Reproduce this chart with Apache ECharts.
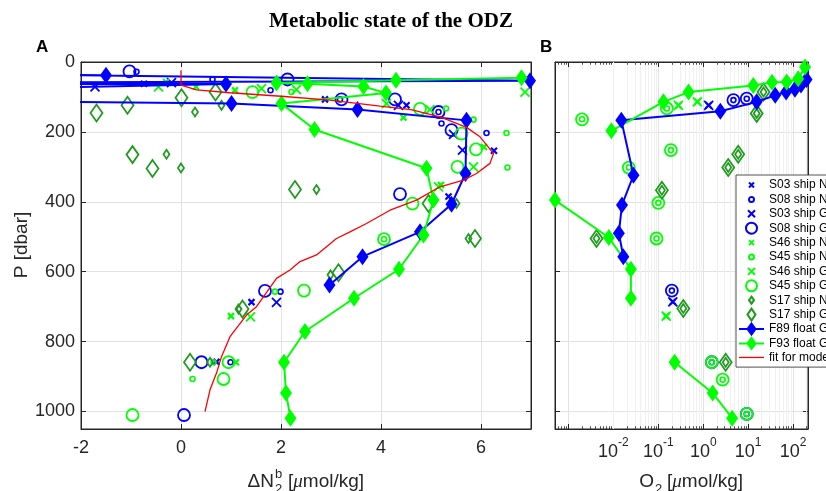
<!DOCTYPE html>
<html><head><meta charset="utf-8">
<script src="https://cdn.jsdelivr.net/npm/echarts@6/dist/echarts.min.js"></script>
<style>html,body{margin:0;padding:0;background:#fff}#c{width:826px;height:491px}</style>
</head><body><div id="c"></div>
<script>
// ---------- Panel A: [ΔN2b (µmol/kg), P (dbar)] ----------
var s03NU_A = [[-0.74,62],[2.88,107],[4.51,124],[6.26,254],[5.35,385],[1.41,687],[0.71,858]];
var s08NU_A = [[-0.89,28],[0.63,50],[1.79,81],[3.18,107],[5.15,143],[5.21,176],[6.11,203],[1.99,657],[0.99,859]];
var s03GT_A = [[-1.72,71],[-0.19,59],[4.35,124],[5.45,207],[5.63,252],[1.91,688]];
var s08GT_A = [[-1.03,27],[2.13,50],[3.21,107],[4.28,107],[5.15,143],[5.41,195],[4.38,378],[1.68,655],[0.41,859],[0.06,1010]];
var s46NU_A = [[-0.3,57],[0.3,71],[1.08,81],[4.45,159],[6.06,243],[5.2,352],[1.0,727],[1.1,859]];
var s45NU_A = [[2.21,86],[5.3,133],[5.85,165],[6.51,203],[6.53,302],[4.06,507],[1.88,657],[0.65,859],[0.23,907]];
var s46GT_A = [[-0.45,71],[1.61,76],[2.31,79],[4.11,119],[4.98,136],[6.88,86],[5.85,300],[5.15,357],[1.39,729]];
var s45GT_A = [[1.43,86],[4.78,134],[5.61,205],[5.9,250],[5.53,300],[4.63,405],[4.06,507],[2.46,654],[0.95,859],[0.85,907],[-0.97,1010]];
var s17NU_A = [[0.81,124],[0.28,143],[-0.29,264],[0.0,303],[2.71,365],[5.51,405],[5.75,505],[2.99,609],[1.15,707],[0.58,859]];
var s17GT_A = [[0.69,86],[0.01,102],[-1.07,124],[-1.69,146],[-0.97,265],[-0.57,305],[2.28,365],[4.95,405],[5.88,505],[3.15,603],[1.23,707],[0.18,859]];
var f89_A = [[-1.5,38],[-12,20],[6.98,54],[-12,62],[0.9,63],[-12,100],[1.01,119],[3.53,136],[5.71,167],[5.69,319],[5.41,407],[4.78,486],[3.63,557],[2.97,638]];
var f93_A = [[8.5,12],[6.81,45],[4.3,52],[1.91,60],[2.53,62],[3.65,70],[4.1,89],[2.01,119],[2.67,193],[4.91,304],[5.05,395],[4.85,495],[4.36,593],[3.46,676],[2.48,771],[2.06,859],[2.1,947],[2.19,1019]];
var fit_A = [[0.0,24],[0.0,66],[0.31,80],[0.98,88],[2.0,98],[2.98,109],[3.98,126],[4.6,136],[5.2,158],[5.71,187],[5.98,214],[6.25,262],[6.18,290],[5.91,319],[5.65,338],[5.18,357],[4.71,395],[4.18,424],[3.71,462],[3.38,486],[3.11,505],[2.71,552],[2.38,571],[2.18,595],[1.91,619],[1.51,700],[1.31,724],[0.98,786],[0.81,843],[0.71,890],[0.58,938],[0.48,1000]];

// ---------- Panel B: [O2 (µmol/kg), P (dbar)] ----------
var s03_B = [[1.32,124],[0.21,686]];
var s08_B = [[4.7,109],[9.3,105],[0.2,654],[1.55,859],[9.3,1007]];
var s46_B = [[0.28,124],[0.74,114],[0.15,727]];
var s45_B = [[0.002,164],[0.155,133],[0.19,252],[0.022,302],[0.10,403],[0.091,505],[1.55,859],[2.7,909],[9.3,1007]];
var s17_B = [[22,86],[15.5,147],[6.0,264],[3.6,302],[0.12,367],[0.0042,505],[0.36,705],[3.16,859]];
var f89_B = [[240,5],[200,50],[150,66],[110,78],[70,86],[40,95],[15.5,114],[2.4,141],[0.015,167],[0.028,324],[0.0155,409],[0.0132,490],[0.0166,557]];
var f93_B = [[185,14],[130,48],[72,57],[34,58],[13,67],[0.47,86],[0.13,114],[0.009,197],[null,304],[0.0005,395],[0.0079,502],[0.0245,593],[0.0245,676],[null,771],[0.23,859],[1.62,947],[4.4,1019]];

// ---------- axes ticks ----------
var xTicksA = [-2, 0, 2, 4, 6];
var yTicks = [0, 200, 400, 600, 800, 1000];
var xDecadesB = [-2, -1, 0, 1, 2];

var BLUE = '#0000ff', GREEN = '#00ff00', DKG = '#1f9a1f', RED = '#ff0000', AX = '#262626', GRID = '#e2e2e2';
var XPATH = 'path://M0,0L10,10M10,0L0,10';
var P_MIN = 0, P_MAX = 1050, O2_MIN = 5e-4, O2_MAX = 215;

function sc(name, data, symbol, size, color, bw, xi, yi, z) {
  return {type: 'scatter', name: name, data: data, symbol: symbol, symbolSize: size,
    xAxisIndex: xi, yAxisIndex: yi, z: z || 3, animation: false,
    itemStyle: {color: 'rgba(0,0,0,0)', borderColor: color, borderWidth: bw, opacity: 1},
    emphasis: {disabled: true}};
}
function ln(name, data, color, xi, yi) {
  return {type: 'line', name: name, data: data, xAxisIndex: xi, yAxisIndex: yi, z: 4, animation: false,
    symbol: 'diamond', symbolSize: [12, 17], showAllSymbol: true, connectNulls: false,
    lineStyle: {color: color, width: 2, type: 'solid'}, itemStyle: {color: color}, emphasis: {disabled: true}};
}

var series = [
  sc('S03 ship NU', s03NU_A, XPATH, 6, BLUE, 2.2, 0, 0),
  sc('S08 ship NU', s08NU_A, 'circle', 5, BLUE, 1.6, 0, 0),
  sc('S03 ship GT', s03GT_A, XPATH, 9, BLUE, 1.8, 0, 0),
  sc('S08 ship GT', s08GT_A, 'circle', 12, BLUE, 1.8, 0, 0),
  sc('S46 ship NU', s46NU_A, XPATH, 6, GREEN, 2.2, 0, 0),
  sc('S45 ship NU', s45NU_A, 'circle', 5, GREEN, 1.6, 0, 0),
  sc('S46 ship GT', s46GT_A, XPATH, 9, GREEN, 1.8, 0, 0),
  sc('S45 ship GT', s45GT_A, 'circle', 12, GREEN, 1.8, 0, 0),
  sc('S17 ship NU', s17NU_A, 'diamond', [6, 9], DKG, 1.8, 0, 0),
  sc('S17 ship GT', s17GT_A, 'diamond', [12, 17], DKG, 1.8, 0, 0),
  ln('F89 float GT', f89_A, BLUE, 0, 0),
  ln('F93 float GT', f93_A, GREEN, 0, 0),
  {type: 'line', name: 'fit for model', data: fit_A, xAxisIndex: 0, yAxisIndex: 0, z: 5, symbol: 'none',
    animation: false, lineStyle: {color: RED, width: 1.3}, itemStyle: {color: RED}, emphasis: {disabled: true}},
  // panel B
  sc('S03 ship NU', s03_B, XPATH, 6, BLUE, 2.2, 2, 2),
  sc('S08 ship NU', s08_B, 'circle', 5, BLUE, 1.6, 2, 2),
  sc('S03 ship GT', s03_B, XPATH, 9, BLUE, 1.8, 2, 2),
  sc('S08 ship GT', s08_B, 'circle', 12, BLUE, 1.8, 2, 2),
  sc('S46 ship NU', s46_B, XPATH, 6, GREEN, 2.2, 2, 2),
  sc('S45 ship NU', s45_B, 'circle', 5, GREEN, 1.6, 2, 2),
  sc('S46 ship GT', s46_B, XPATH, 9, GREEN, 1.8, 2, 2),
  sc('S45 ship GT', s45_B, 'circle', 12, GREEN, 1.8, 2, 2),
  sc('S17 ship NU', s17_B, 'diamond', [6, 9], DKG, 1.8, 2, 2),
  sc('S17 ship GT', s17_B, 'diamond', [12, 17], DKG, 1.8, 2, 2),
  ln('F89 float GT', f89_B, BLUE, 2, 2),
  ln('F93 float GT', f93_B, GREEN, 2, 2)
];

// minor log grid lines and minor ticks for panel B
var minorLines = [], minorTicks = [];
for (var n = -4; n <= 2; n++) {
  for (var k = 2; k <= 9; k++) {
    var v = k * Math.pow(10, n);
    if (v > O2_MIN && v < O2_MAX) {
      minorLines.push({xAxis: v});
      minorTicks.push([{coord: [v, P_MAX]}, {coord: [v, P_MAX - 8]}]);
      minorTicks.push([{coord: [v, P_MIN]}, {coord: [v, P_MIN + 8]}]);
    }
  }
}
series.push({type: 'line', name: '_minor', data: [[1, -500]], xAxisIndex: 2, yAxisIndex: 2, z: 1, symbol: 'none',
  silent: true, animation: false, lineStyle: {width: 0},
  markLine: {silent: true, z: 1, symbol: 'none', animation: false, label: {show: false},
    lineStyle: {color: '#f0f0f0', width: 1, type: 'solid'}, emphasis: {disabled: true}, data: minorLines}});
series.push({type: 'line', name: '_minorTicks', data: [[1, -500]], xAxisIndex: 2, yAxisIndex: 2, z: 6, symbol: 'none',
  silent: true, animation: false, lineStyle: {width: 0},
  markLine: {silent: true, z: 6, symbol: 'none', animation: false, label: {show: false},
    lineStyle: {color: AX, width: 0.8, type: 'solid'}, emphasis: {disabled: true}, data: minorTicks}});

function logFmt(v) {
  var l = Math.log10(v), r = Math.round(l);
  if (Math.abs(l - r) < 1e-6 && xDecadesB.indexOf(r) >= 0) return '{b|10}{s|' + r + '}';
  return '';
}

var tickCommon = {inside: true, length: 5, lineStyle: {color: AX}};
var lineCommon = {show: true, onZero: false, lineStyle: {color: AX, width: 1}};

var option = {
  backgroundColor: '#fff',
  animation: false,
  grid: [
    {left: 81, top: 62, width: 450, height: 367, show: true, borderColor: AX, borderWidth: 1, backgroundColor: 'rgba(0,0,0,0)'},
    {left: 555, top: 62, width: 253, height: 367, show: true, borderColor: AX, borderWidth: 1, backgroundColor: 'rgba(0,0,0,0)'}
  ],
  xAxis: [
    {type: 'value', gridIndex: 0, position: 'bottom', min: xTicksA[0], max: 7, interval: 2,
      axisLine: lineCommon, axisTick: tickCommon,
      axisLabel: {fontSize: 18, color: AX, margin: 10, fontFamily: 'Liberation Sans', showMaxLabel: false},
      splitLine: {show: true, lineStyle: {color: GRID}}},
    {type: 'value', gridIndex: 0, position: 'top', min: xTicksA[0], max: 7, interval: 2,
      axisLine: lineCommon, axisTick: tickCommon, axisLabel: {show: false}, splitLine: {show: false}},
    {type: 'log', logBase: 10, gridIndex: 1, position: 'bottom', min: O2_MIN, max: O2_MAX,
      axisLine: lineCommon, axisTick: tickCommon,
      axisLabel: {formatter: logFmt, margin: 8, color: AX, fontFamily: 'Liberation Sans',
        rich: {b: {fontSize: 18, color: AX, fontFamily: 'Liberation Sans', lineHeight: 24, verticalAlign: 'bottom'},
               s: {fontSize: 12, color: AX, fontFamily: 'Liberation Sans', lineHeight: 24, verticalAlign: 'top'}}},
      splitLine: {show: true, lineStyle: {color: GRID}}},
    {type: 'log', logBase: 10, gridIndex: 1, position: 'top', min: O2_MIN, max: O2_MAX,
      axisLine: lineCommon, axisTick: tickCommon, axisLabel: {show: false}, splitLine: {show: false}}
  ],
  yAxis: [
    {type: 'value', gridIndex: 0, position: 'left', inverse: true, min: P_MIN, max: P_MAX, interval: 200,
      axisLine: lineCommon, axisTick: tickCommon,
      axisLabel: {fontSize: 18, color: AX, margin: 6, fontFamily: 'Liberation Sans', showMaxLabel: false,
        formatter: function (v) { return String(v); }},
      splitLine: {show: true, lineStyle: {color: GRID}}},
    {type: 'value', gridIndex: 0, position: 'right', inverse: true, min: P_MIN, max: P_MAX, interval: 200,
      axisLine: lineCommon, axisTick: tickCommon, axisLabel: {show: false}, splitLine: {show: false}},
    {type: 'value', gridIndex: 1, position: 'left', inverse: true, min: P_MIN, max: P_MAX, interval: 200,
      axisLine: lineCommon, axisTick: tickCommon, axisLabel: {show: false},
      splitLine: {show: true, lineStyle: {color: GRID}}},
    {type: 'value', gridIndex: 1, position: 'right', inverse: true, min: P_MIN, max: P_MAX, interval: 200,
      axisLine: lineCommon, axisTick: tickCommon, axisLabel: {show: false}, splitLine: {show: false}}
  ],
  legend: {
    orient: 'vertical', left: 736, top: 175, padding: [3, 4, 3, 2], z: 20,
    backgroundColor: '#fff', borderColor: AX, borderWidth: 0.8, borderRadius: 0,
    itemWidth: 25, itemHeight: 12, itemGap: 0.4, selectedMode: false,
    textStyle: {fontSize: 12, color: '#000', fontFamily: 'Liberation Sans', lineHeight: 12},
    data: [
      {name: 'S03 ship NU', icon: 'path://M0,0M12,12M3.5,3.5L8.5,8.5M8.5,3.5L3.5,8.5'},
      {name: 'S08 ship NU', icon: 'path://M0,0M12,12M8.5,6A2.5,2.5,0,1,1,8.5,5.99Z'},
      {name: 'S03 ship GT', icon: 'path://M0,0M12,12M2.5,2.5L9.5,9.5M9.5,2.5L2.5,9.5'},
      {name: 'S08 ship GT', icon: 'path://M0,0M12,12M11.5,6A5.5,5.5,0,1,1,11.5,5.99Z'},
      {name: 'S46 ship NU', icon: 'path://M0,0M12,12M3.5,3.5L8.5,8.5M8.5,3.5L3.5,8.5'},
      {name: 'S45 ship NU', icon: 'path://M0,0M12,12M8.5,6A2.5,2.5,0,1,1,8.5,5.99Z'},
      {name: 'S46 ship GT', icon: 'path://M0,0M12,12M2.5,2.5L9.5,9.5M9.5,2.5L2.5,9.5'},
      {name: 'S45 ship GT', icon: 'path://M0,0M12,12M11.5,6A5.5,5.5,0,1,1,11.5,5.99Z'},
      {name: 'S17 ship NU', icon: 'path://M0,0M12,12M6,2.5L8.5,6L6,9.5L3.5,6Z'},
      {name: 'S17 ship GT', icon: 'path://M0,0M12,12M6,0L10,6L6,12L2,6Z'},
      {name: 'F89 float GT', icon: 'path://M0,0M25,12M0,6L25,6M12.5,0.5L16.5,6L12.5,11.5L8.5,6Z',
        itemStyle: {color: BLUE, borderColor: BLUE, borderWidth: 2}},
      {name: 'F93 float GT', icon: 'path://M0,0M25,12M0,6L25,6M12.5,0.5L16.5,6L12.5,11.5L8.5,6Z',
        itemStyle: {color: GREEN, borderColor: GREEN, borderWidth: 2}},
      {name: 'fit for model', icon: 'path://M0,0M25,12M0,6L25,6',
        itemStyle: {color: 'rgba(0,0,0,0)', borderColor: RED, borderWidth: 1.3}}
    ]
  },
  graphic: [
    {type: 'text', x: 391, y: 22, style: {text: 'Metabolic state of the ODZ', font: 'bold 21px "Liberation Serif"', fill: '#000', align: 'center', verticalAlign: 'middle'}},
    {type: 'text', x: 36, y: 47, style: {text: 'A', font: 'bold 17px "Liberation Sans"', fill: '#000', align: 'left', verticalAlign: 'middle'}},
    {type: 'text', x: 540, y: 47, style: {text: 'B', font: 'bold 17px "Liberation Sans"', fill: '#000', align: 'left', verticalAlign: 'middle'}},
    {type: 'text', x: 22, y: 245, rotation: Math.PI / 2, style: {text: 'P [dbar]', font: '19px "Liberation Sans"', fill: AX, align: 'center', verticalAlign: 'middle'}},
    {type: 'text', x: 274, y: 482, style: {text: '\u0394N', font: '19px "Liberation Sans"', fill: AX, align: 'right', verticalAlign: 'middle'}},
    {type: 'text', x: 275, y: 474, style: {text: 'b', font: '13px "Liberation Sans"', fill: AX, align: 'left', verticalAlign: 'middle'}},
    {type: 'text', x: 275, y: 489, style: {text: '2', font: '13px "Liberation Sans"', fill: AX, align: 'left', verticalAlign: 'middle'}},
    {type: 'text', x: 288, y: 482, style: {text: '[{i|\u03bc}mol/kg]', font: '19px "Liberation Sans"', fill: AX, align: 'left', verticalAlign: 'middle',
      rich: {i: {fontStyle: 'italic', fontSize: 19, fontFamily: 'Liberation Serif', fill: AX}}}},
    {type: 'text', x: 654, y: 482, style: {text: 'O', font: '19px "Liberation Sans"', fill: AX, align: 'right', verticalAlign: 'middle'}},
    {type: 'text', x: 655, y: 489, style: {text: '2', font: '13px "Liberation Sans"', fill: AX, align: 'left', verticalAlign: 'middle'}},
    {type: 'text', x: 667, y: 482, style: {text: '[{i|\u03bc}mol/kg]', font: '19px "Liberation Sans"', fill: AX, align: 'left', verticalAlign: 'middle',
      rich: {i: {fontStyle: 'italic', fontSize: 19, fontFamily: 'Liberation Serif', fill: AX}}}}
  ],
  series: series
};

var chart = echarts.init(document.getElementById('c'), null, {renderer: 'canvas'});
chart.setOption(option);
</script></body></html>
